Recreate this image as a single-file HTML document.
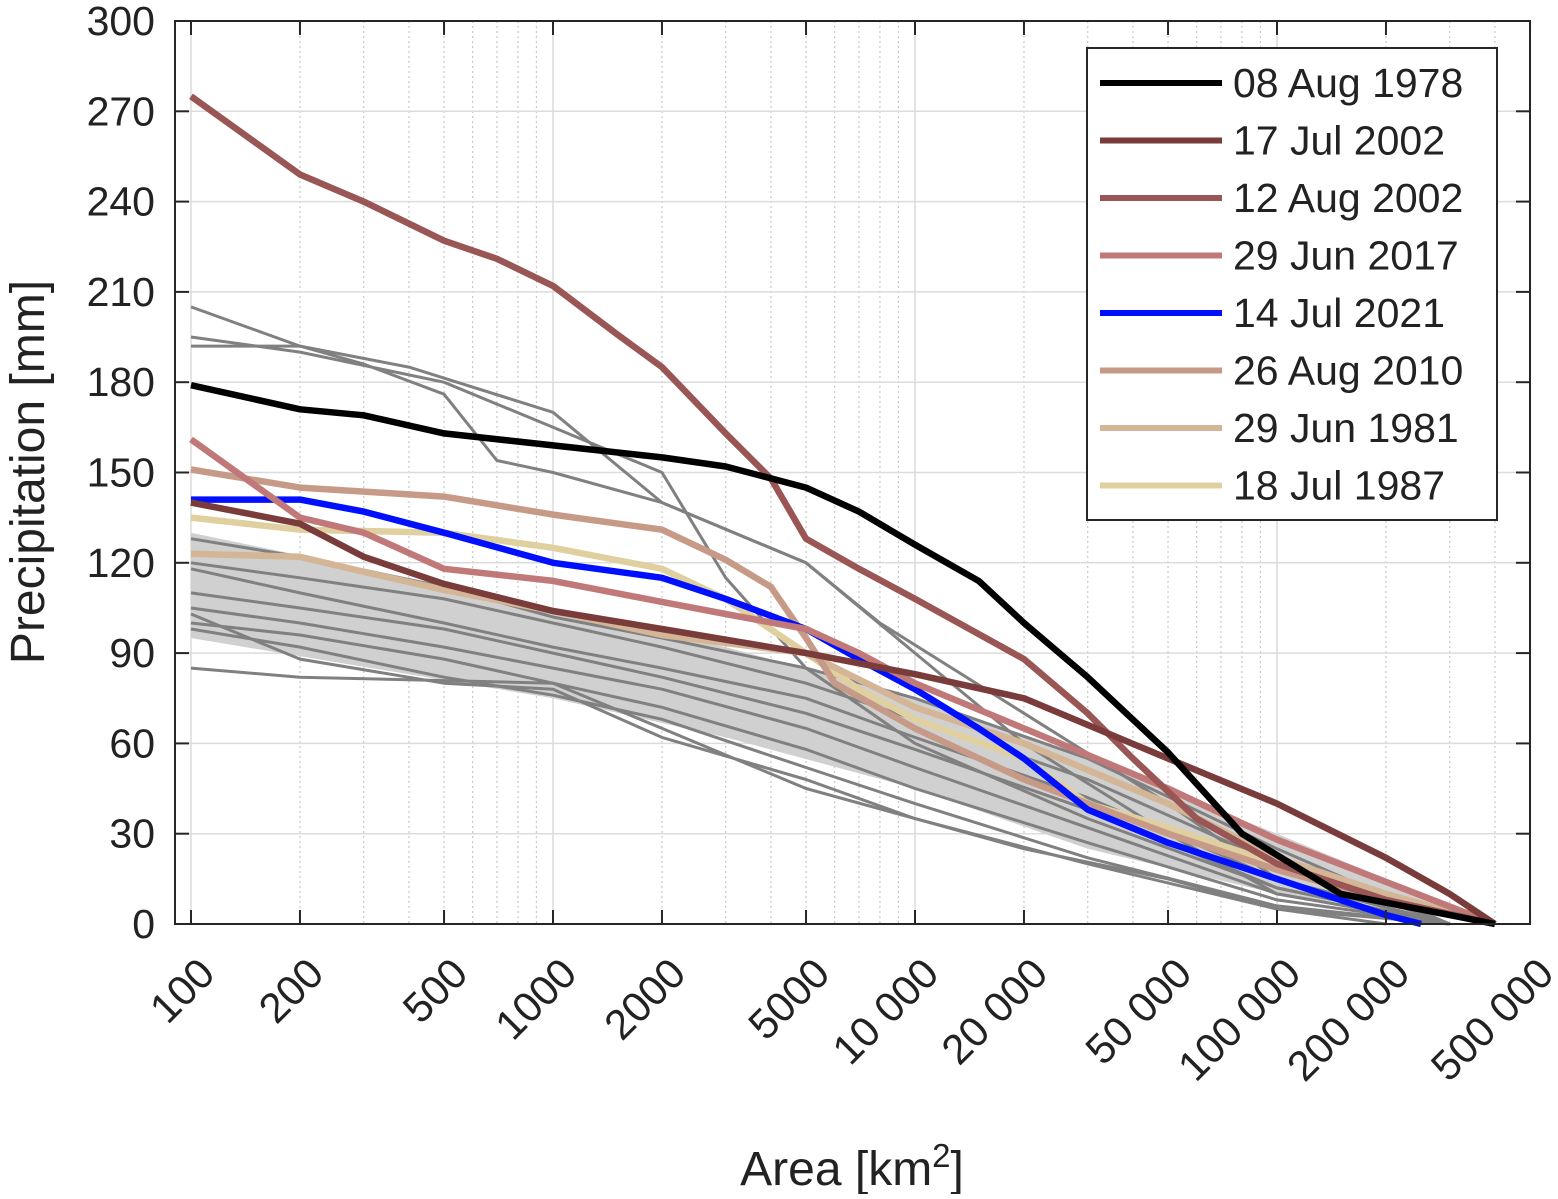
<!DOCTYPE html>
<html><head><meta charset="utf-8"><style>
body{margin:0;background:#fff}
svg text{font-family:"Liberation Sans",sans-serif;fill:#222}
</style></head><body>
<svg id="chart" width="1558" height="1194" viewBox="0 0 1558 1194" xmlns="http://www.w3.org/2000/svg"></svg>
<script>
const yTicks=[0,30,60,90,120,150,180,210,240,270,300];
const xTicks=[100,200,500,1000,2000,5000,10000,20000,50000,100000,200000,500000];
const xTickLabels=["100","200","500","1000","2000","5000","10 000","20 000","50 000","100 000","200 000","500 000"];
const bandUpperA=[100,1000,3000,10000,30000,100000,400000];
const bandUpperV=[130,105,92,75,55,30,0];
const bandLowerA=[100,1000,3000,10000,30000,100000,400000];
const bandLowerV=[95,75,62,45,25,10,0];
const grayA=[
[100,200,400,1000,2000,5000,10000,20000,50000,100000,300000],
[100,200,500,1000,2000,3000,5000,10000,30000,100000,300000],
[100,200,300,500,700,1000,2000,5000,8000,20000,50000,100000,300000],
[100,200,1000,2000,5000,10000,20000,50000,100000,200000],
[100,200,500,1000,2000,5000,10000,30000,100000,300000],
[100,200,500,1000,2000,5000,10000,30000,100000,300000],
[100,200,500,1000,2000,5000,10000,30000,100000,300000],
[100,200,500,1000,2000,5000,10000,30000,100000,300000],
[100,200,500,1000,2000,5000,10000,30000,100000,300000],
[100,200,500,1000,2000,5000,10000,30000,100000,300000],
[100,200,500,1000,2000,5000,10000,30000,100000,300000],
[100,200,500,1000,2000,5000,10000,30000,100000,300000]
];
const grayV=[
[205,192,185,170,140,120,90,60,30,10,0],
[195,190,180,165,150,115,85,60,35,12,0],
[192,192,186,176,154,150,140,120,100,70,40,15,0],
[85,82,80,65,45,35,25,15,5,0],
[128,122,112,102,95,85,75,55,25,0],
[120,115,108,100,92,80,68,48,20,0],
[118,110,100,92,85,75,62,42,15,0],
[110,105,98,90,82,70,58,38,12,0],
[105,100,92,85,78,65,52,32,10,0],
[100,96,88,80,72,58,45,27,8,0],
[98,92,82,76,68,52,40,22,6,0],
[103,88,80,78,62,48,35,20,5,0]
];
const seriesNames=["08 Aug 1978","17 Jul 2002","12 Aug 2002","29 Jun 2017","14 Jul 2021","26 Aug 2010","29 Jun 1981","18 Jul 1987"];
const seriesColors=["#000000","#7a3b3b","#9a5555","#c07878","#0010ff","#c79a88","#d4b596","#e0d0a0"];
const seriesA=[
[100,200,300,500,1000,2000,3000,5000,7000,10000,15000,20000,30000,50000,80000,150000,300000,400000],
[100,200,300,500,1000,2000,5000,10000,20000,50000,100000,200000,300000,400000],
[100,200,300,500,700,1000,1500,2000,3000,4000,5000,7000,10000,20000,30000,40000,60000,100000,200000,400000],
[100,200,300,500,1000,2000,3000,5000,7000,10000,20000,50000,100000,200000,400000],
[100,200,300,500,1000,2000,3000,5000,7000,10000,15000,20000,30000,50000,100000,200000,250000],
[100,200,500,1000,2000,3000,4000,5000,6000,10000,20000,50000,100000,200000,400000],
[100,200,300,500,1000,2000,5000,10000,20000,50000,100000,200000,400000],
[100,200,500,1000,2000,3000,5000,7000,10000,20000,30000,50000,100000,200000,400000]
];
const seriesV=[
[179,171,169,163,159,155,152,145,137,126,114,100,82,57,30,10,3,0],
[140,133,122,113,104,98,90,83,75,55,40,22,10,0],
[275,249,240,227,221,212,196,185,163,148,128,118,108,88,70,55,35,20,8,0],
[161,135,130,118,114,107,103,98,90,80,65,45,28,14,0],
[141,141,137,130,120,115,108,98,88,78,65,55,38,27,15,3,0],
[151,145,142,136,131,121,112,95,80,65,48,30,18,8,0],
[123,122,117,111,104,96,90,72,60,40,22,10,0],
[135,131,130,125,118,108,90,78,68,55,40,32,20,8,0]
];
const X0=175,X1=1530,Y0=21,Y1=924;
const xs=a=>191+(Math.log10(a)-2)*362;
const ys=v=>Y1-(v/300)*(Y1-Y0);
const svg=document.getElementById('chart');
const NS="http://www.w3.org/2000/svg";
function mk(t,at,p){const e=document.createElementNS(NS,t);for(const k in at)e.setAttribute(k,at[k]);(p||svg).appendChild(e);return e;}
for(let d=100;d<1000000;d*=10){for(let m=2;m<10;m++){const a=d*m;if(a>500000)break;const g=mk('line',{x1:xs(a),x2:xs(a),y1:Y0,y2:Y1,stroke:'#c8c8c8','stroke-width':1.2,'stroke-dasharray':'2,3'});}}
for(const a of [100,1000,10000,100000]){const g=mk('line',{x1:xs(a),x2:xs(a),y1:Y0,y2:Y1,stroke:'#dcdcdc','stroke-width':1.5});}
yTicks.forEach(v=>{const g=mk('line',{x1:X0,x2:X1,y1:ys(v),y2:ys(v),stroke:'#dcdcdc','stroke-width':1.5});});
let d='';bandUpperA.forEach((a,i)=>d+=(i?'L':'M')+xs(a)+','+ys(bandUpperV[i]));
for(let i=bandLowerA.length-1;i>=0;i--)d+='L'+xs(bandLowerA[i])+','+ys(bandLowerV[i]);
const band=mk('path',{d:d+'Z',fill:'#d0d0d0'});


function pathOf(A,V){return A.map((a,i)=>(i?'L':'M')+xs(a).toFixed(1)+','+ys(V[i]).toFixed(1)).join('');}
grayA.forEach((A,i)=>{const p=mk('path',{d:pathOf(A,grayV[i]),fill:'none',stroke:'#808080','stroke-width':3,'stroke-linejoin':'round'});});
for(let i=seriesA.length-1;i>=0;i--){const p=mk('path',{d:pathOf(seriesA[i],seriesV[i]),fill:'none',stroke:seriesColors[i],'stroke-width':6.5,'stroke-linejoin':'round'});}
const fr=mk('rect',{x:X0,y:Y0,width:X1-X0,height:Y1-Y0,fill:'none',stroke:'#262626','stroke-width':2});

yTicks.forEach(v=>{mk('line',{x1:X0,x2:X0+14,y1:ys(v),y2:ys(v),stroke:'#262626','stroke-width':2});mk('line',{x1:X1-14,x2:X1,y1:ys(v),y2:ys(v),stroke:'#262626','stroke-width':2});
const t=mk('text',{x:155,y:ys(v)+14,'text-anchor':'end','font-size':41});t.textContent=v;});
xTicks.forEach((a,i)=>{const x=xs(a);mk('line',{x1:x,x2:x,y1:Y1,y2:Y1-14,stroke:'#262626','stroke-width':2});mk('line',{x1:x,x2:x,y1:Y0,y2:Y0+14,stroke:'#262626','stroke-width':2});
const t=mk('text',{x:x+26,y:Y1+52,'text-anchor':'end','font-size':42,transform:`rotate(-45 ${x+26} ${Y1+52})`});t.textContent=xTickLabels[i];});
const yt=mk('text',{x:44,y:472,'text-anchor':'middle','font-size':48,transform:'rotate(-90 44 472)'});yt.textContent='Precipitation [mm]';
const xt=mk('text',{x:852,y:1185,'text-anchor':'middle','font-size':48});xt.innerHTML='Area [km<tspan dy="-18" font-size="33">2</tspan><tspan dy="18">]</tspan>';
const lg=mk('rect',{x:1087,y:48,width:410,height:472,fill:'#fff',stroke:'#262626','stroke-width':2});
seriesNames.forEach((n,i)=>{const y=83+i*57.5;const l=mk('line',{x1:1100,x2:1222,y1:y,y2:y,stroke:seriesColors[i],'stroke-width':6});
const t=mk('text',{x:1233,y:y+14,'font-size':41});t.textContent=n;});
</script>
</body></html>
